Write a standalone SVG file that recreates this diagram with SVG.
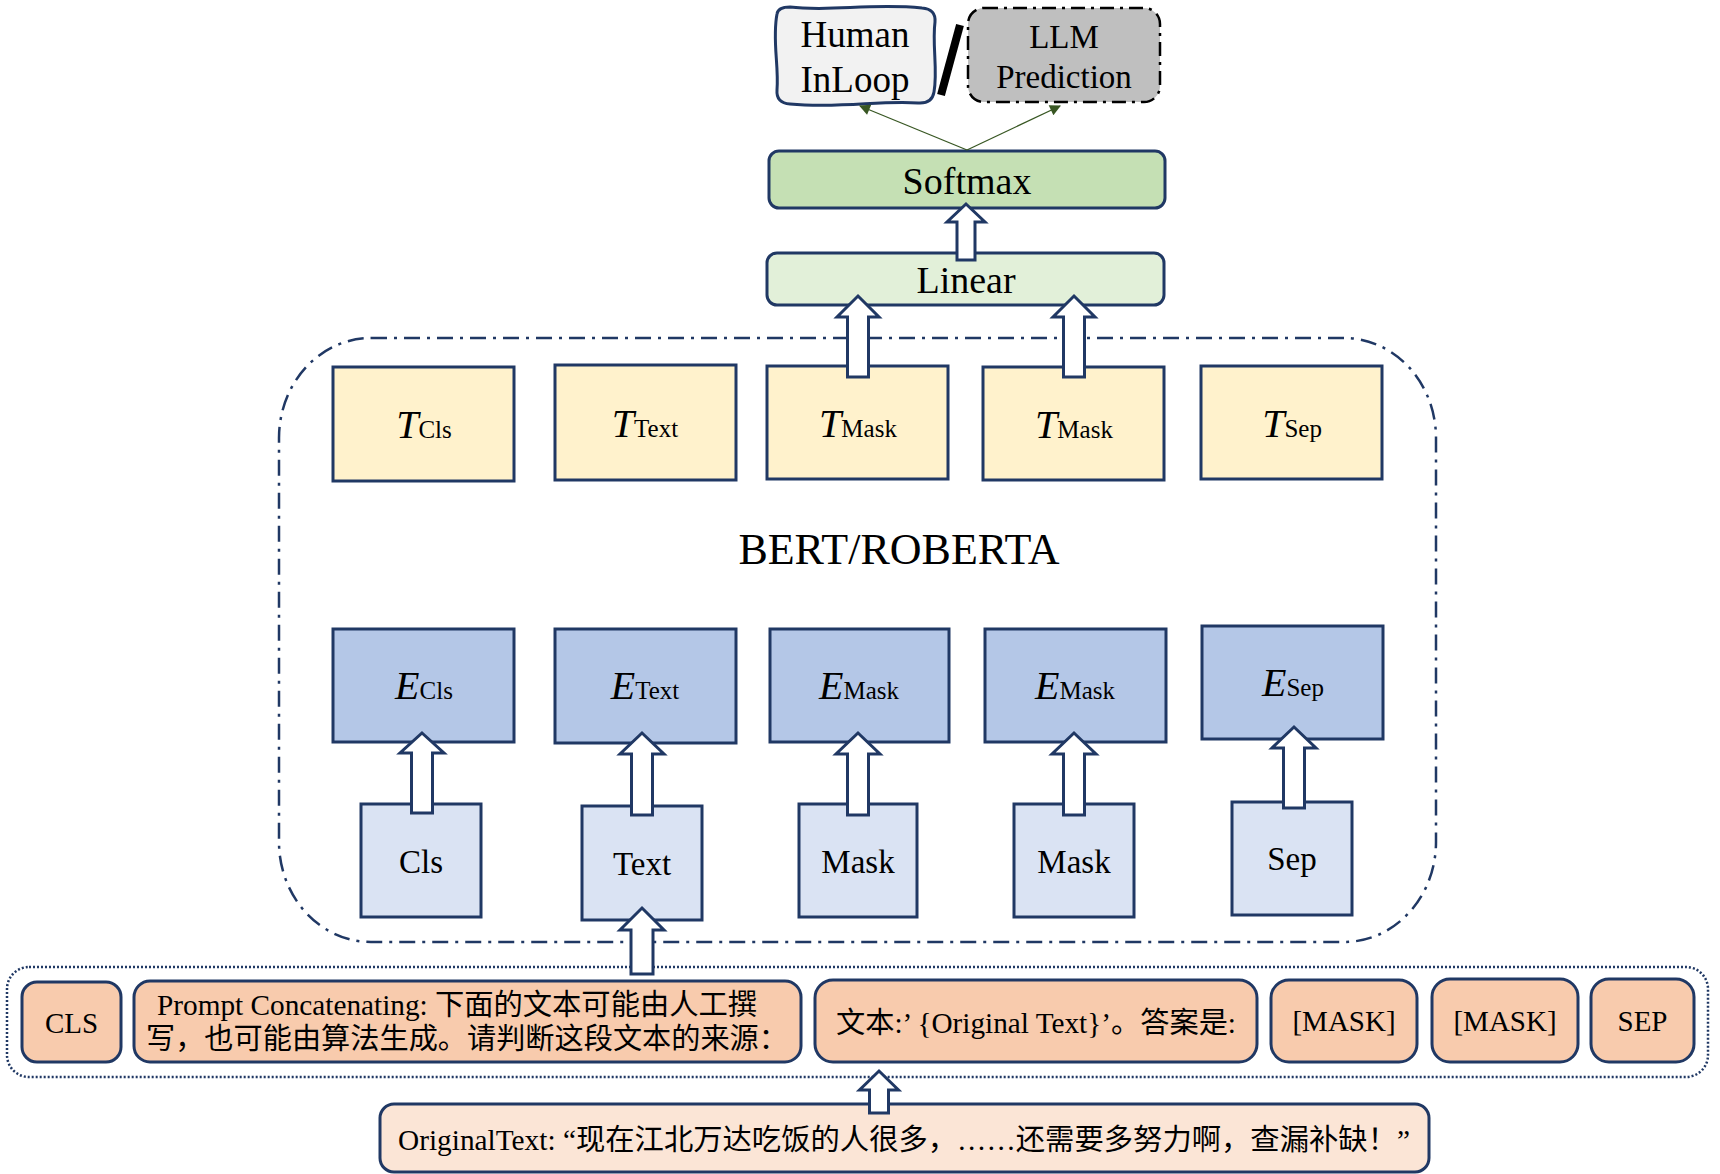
<svg xmlns="http://www.w3.org/2000/svg" width="1720" height="1174" viewBox="0 0 1720 1174">
<style>
  .nav { stroke: #203864; stroke-width: 3; }
  .serif { font-family: "Liberation Serif", "Noto Sans CJK SC", serif; fill: #000; }
  .mix { font-family: "Liberation Serif", "Noto Sans CJK SC", sans-serif; fill: #000; }
  .tbox { fill: #fff2cc; stroke: #203864; stroke-width: 3; }
  .ebox { fill: #b4c7e7; stroke: #203864; stroke-width: 3; }
  .kbox { fill: #dae3f3; stroke: #203864; stroke-width: 3; }
  .pbox { fill: #f8cbad; stroke: #203864; stroke-width: 3; }
  .barrow { fill: #ffffff; stroke: #203864; stroke-width: 3; stroke-linejoin: miter; }
  .glink { stroke: #385723; stroke-width: 1.3; fill: none; }
  .big { font-size: 40px; font-style: italic; }
  .sub { font-size: 25px; font-style: normal; }
  .lbl { font-size: 33px; }
  .bot { font-size: 29px; }
</style>
<defs>
  <marker id="garrow" viewBox="0 0 10 10" refX="9" refY="5" markerWidth="14" markerHeight="11" markerUnits="userSpaceOnUse" orient="auto">
    <path d="M0,0 L10,5 L0,10 Z" fill="#385723"/>
  </marker>
</defs>

<!-- BERT container -->
<g id="bert-container">
  <rect x="279" y="338" width="1157" height="604" rx="92" ry="100" fill="none" stroke="#203864" stroke-width="2.5" stroke-dasharray="16 7 3 7"/>
  <text class="serif" x="899" y="564" font-size="44" text-anchor="middle">BERT/ROBERTA</text>
</g>

<!-- top outputs -->
<g id="human-inloop">
  <path d="M777 14 Q778 7 790 7 C830 12 870 3 922 8 Q936 9 935 22 C932 45 938 70 934 92 Q932 104 918 103 C880 100 840 109 790 104 Q776 103 777 90 C779 65 772 40 777 14 Z" fill="#f2f2f2" stroke="#203864" stroke-width="3"/>
  <text class="serif" x="855" y="47" font-size="37" text-anchor="middle">Human</text>
  <text class="serif" x="855" y="92" font-size="37" text-anchor="middle">InLoop</text>
</g>
<g id="slash">
  <line x1="941" y1="95" x2="960" y2="25" stroke="#000" stroke-width="8"/>
</g>
<g id="llm-prediction">
  <rect x="968" y="8" width="192" height="94" rx="16" fill="#bfbfbf" stroke="#000" stroke-width="2.5" stroke-dasharray="14 6 3 6"/>
  <text class="serif" x="1064" y="48" font-size="33" text-anchor="middle">LLM</text>
  <text class="serif" x="1064" y="88" font-size="33" text-anchor="middle">Prediction</text>
</g>

<g id="softmax">
  <rect x="769" y="151" width="396" height="57" rx="10" fill="#c5e0b4" class="nav"/>
  <text class="serif" x="967" y="194" font-size="38" text-anchor="middle">Softmax</text>
</g>
<g id="linear">
  <rect x="767" y="253" width="397" height="52" rx="10" fill="#e2f0d9" class="nav"/>
  <text class="serif" x="966" y="293" font-size="38" text-anchor="middle">Linear</text>
</g>

<!-- T row -->
<g id="t-cls"><rect class="tbox" x="333" y="367" width="181" height="114"/>
  <text class="serif" x="424" y="438" text-anchor="middle"><tspan class="big">T</tspan><tspan class="sub">Cls</tspan></text></g>
<g id="t-text"><rect class="tbox" x="555" y="365" width="181" height="115"/>
  <text class="serif" x="645" y="437" text-anchor="middle"><tspan class="big">T</tspan><tspan class="sub">Text</tspan></text></g>
<g id="t-mask1"><rect class="tbox" x="767" y="366" width="181" height="113"/>
  <text class="serif" x="858" y="437" text-anchor="middle"><tspan class="big">T</tspan><tspan class="sub">Mask</tspan></text></g>
<g id="t-mask2"><rect class="tbox" x="983" y="367" width="181" height="113"/>
  <text class="serif" x="1074" y="438" text-anchor="middle"><tspan class="big">T</tspan><tspan class="sub">Mask</tspan></text></g>
<g id="t-sep"><rect class="tbox" x="1201" y="366" width="181" height="113"/>
  <text class="serif" x="1292" y="437" text-anchor="middle"><tspan class="big">T</tspan><tspan class="sub">Sep</tspan></text></g>

<!-- E row -->
<g id="e-cls"><rect class="ebox" x="333" y="629" width="181" height="113"/>
  <text class="serif" x="424" y="699" text-anchor="middle"><tspan class="big">E</tspan><tspan class="sub">Cls</tspan></text></g>
<g id="e-text"><rect class="ebox" x="555" y="629" width="181" height="114"/>
  <text class="serif" x="645" y="699" text-anchor="middle"><tspan class="big">E</tspan><tspan class="sub">Text</tspan></text></g>
<g id="e-mask1"><rect class="ebox" x="770" y="629" width="179" height="113"/>
  <text class="serif" x="859" y="699" text-anchor="middle"><tspan class="big">E</tspan><tspan class="sub">Mask</tspan></text></g>
<g id="e-mask2"><rect class="ebox" x="985" y="629" width="181" height="113"/>
  <text class="serif" x="1075" y="699" text-anchor="middle"><tspan class="big">E</tspan><tspan class="sub">Mask</tspan></text></g>
<g id="e-sep"><rect class="ebox" x="1202" y="626" width="181" height="113"/>
  <text class="serif" x="1293" y="696" text-anchor="middle"><tspan class="big">E</tspan><tspan class="sub">Sep</tspan></text></g>

<!-- token row -->
<g id="tok-cls"><rect class="kbox" x="361" y="804" width="120" height="113"/>
  <text class="serif lbl" x="421" y="873" text-anchor="middle">Cls</text></g>
<g id="tok-text"><rect class="kbox" x="582" y="806" width="120" height="114"/>
  <text class="serif lbl" x="642" y="875" text-anchor="middle">Text</text></g>
<g id="tok-mask1"><rect class="kbox" x="799" y="804" width="118" height="113"/>
  <text class="serif lbl" x="858" y="873" text-anchor="middle">Mask</text></g>
<g id="tok-mask2"><rect class="kbox" x="1014" y="804" width="120" height="113"/>
  <text class="serif lbl" x="1074" y="873" text-anchor="middle">Mask</text></g>
<g id="tok-sep"><rect class="kbox" x="1232" y="802" width="120" height="113"/>
  <text class="serif lbl" x="1292" y="870" text-anchor="middle">Sep</text></g>

<!-- bottom input sequence -->
<g id="input-container">
  <rect x="7" y="967" width="1701" height="110" rx="22" fill="none" stroke="#203864" stroke-width="2.5" stroke-dasharray="2 2"/>
</g>
<g id="in-cls"><rect class="pbox" x="22" y="982" width="99" height="80" rx="15"/>
  <text class="serif bot" x="71.5" y="1033" text-anchor="middle">CLS</text></g>
<g id="in-prompt"><rect class="pbox" x="134" y="981" width="667" height="81" rx="16"/>
  <text class="mix bot" x="157" y="1015" textLength="600" lengthAdjust="spacingAndGlyphs">Prompt Concatenating: 下面的文本可能由人工撰</text>
  <text class="mix bot" x="146" y="1049" textLength="642" lengthAdjust="spacingAndGlyphs">写，也可能由算法生成。请判断这段文本的来源：</text></g>
<g id="in-text"><rect class="pbox" x="815" y="980" width="442" height="82" rx="18"/>
  <text class="mix bot" x="836" y="1033" textLength="400" lengthAdjust="spacingAndGlyphs">文本:’ {Original Text}’。答案是:</text></g>
<g id="in-mask1"><rect class="pbox" x="1271" y="980" width="146" height="82" rx="18"/>
  <text class="serif bot" x="1344" y="1031" text-anchor="middle">[MASK]</text></g>
<g id="in-mask2"><rect class="pbox" x="1432" y="979" width="146" height="83" rx="18"/>
  <text class="serif bot" x="1505" y="1031" text-anchor="middle">[MASK]</text></g>
<g id="in-sep"><rect class="pbox" x="1591" y="979" width="103" height="83" rx="18"/>
  <text class="serif bot" x="1642.5" y="1031" text-anchor="middle">SEP</text></g>

<g id="original-text"><rect x="380" y="1104" width="1049" height="68" rx="14" fill="#fbe5d6" stroke="#203864" stroke-width="3"/>
  <text class="mix bot" x="398" y="1150" textLength="1012" lengthAdjust="spacingAndGlyphs">OriginalText: “现在江北万达吃饭的人很多，……还需要多努力啊，查漏补缺！”</text></g>

<!-- connectors -->
<g id="connectors">
  <line class="glink" x1="967" y1="150" x2="860" y2="106" marker-end="url(#garrow)"/>
  <line class="glink" x1="967" y1="150" x2="1060" y2="106" marker-end="url(#garrow)"/>
  <path class="barrow" d="M966,204 L985,222 L975,222 L975,260 L957,260 L957,222 L947,222 Z"/>
  <path class="barrow" d="M858,296 L879,317 L868.5,317 L868.5,377 L847.5,377 L847.5,317 L837,317 Z"/>
  <path class="barrow" d="M1074,296 L1095,317 L1084.5,317 L1084.5,377 L1063.5,377 L1063.5,317 L1053,317 Z"/>
  <path class="barrow" d="M422,733 L444,753 L432.5,753 L432.5,813 L411.5,813 L411.5,753 L400,753 Z"/>
  <path class="barrow" d="M642,733 L664,754 L652.5,754 L652.5,815 L631.5,815 L631.5,754 L620,754 Z"/>
  <path class="barrow" d="M858,733 L880,754 L868.5,754 L868.5,815 L847.5,815 L847.5,754 L836,754 Z"/>
  <path class="barrow" d="M1074,733 L1096,754 L1084.5,754 L1084.5,815 L1063.5,815 L1063.5,754 L1052,754 Z"/>
  <path class="barrow" d="M1294,727 L1316,748 L1304.5,748 L1304.5,808 L1283.5,808 L1283.5,748 L1272,748 Z"/>
  <path class="barrow" d="M642,908 L664,930 L653,930 L653,974 L631,974 L631,930 L620,930 Z"/>
  <path class="barrow" d="M879,1071 L898.5,1090 L888.5,1090 L888.5,1113 L869.5,1113 L869.5,1090 L859.5,1090 Z"/>
</g>
</svg>
